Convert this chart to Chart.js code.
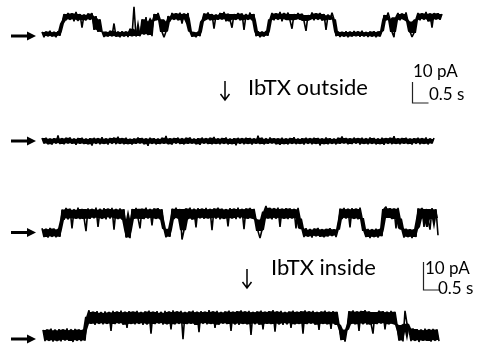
<!DOCTYPE html>
<html lang="en">
<head>
<meta charset="UTF-8">
<title>IbTX single-channel traces</title>
<script src="https://cdn.jsdelivr.net/npm/chart.js"></script>
<style>
  body { margin: 0; background: #fff; }
  #stage { position: relative; width: 480px; height: 345px; overflow: hidden;
           font-family: Lato, "Open Sans", sans-serif; color: #000; }
  .box { position: absolute; }
  .lbl { position: absolute; white-space: nowrap; line-height: 1; }
  #marks { position: absolute; left: 0; top: 0; }
</style>
</head>
<body>
<div id="stage">
  <div class="box" style="left:0;top:0"><canvas id="t1" width="480" height="50"></canvas></div>
  <div class="box" style="left:0;top:115px"><canvas id="t2" width="480" height="50"></canvas></div>
  <div class="box" style="left:0;top:195px"><canvas id="t3" width="480" height="50"></canvas></div>
  <div class="box" style="left:0;top:295px"><canvas id="t4" width="480" height="50"></canvas></div>
  <div class="box" style="left:400px;top:70px"><canvas id="sb1" width="40" height="40"></canvas></div>
  <div class="box" style="left:410px;top:255px"><canvas id="sb2" width="40" height="40"></canvas></div>

  <!-- application arrows -->
  <svg id="marks" width="480" height="345">
    <g stroke="#000" stroke-width="1.5" fill="none">
      <path d="M225 81 V100 M220.5 94 L225 100 L229.5 94"/>
      <path d="M247 269 V288 M242.5 282 L247 288 L251.5 282"/>
    </g>
  </svg>

  <div class="lbl" style="left:248px;top:76px;font-size:22px">IbTX outside</div>
  <div class="lbl" style="left:413px;top:62px;font-size:17px">10 pA</div>
  <div class="lbl" style="left:429px;top:85px;font-size:17px">0.5 s</div>

  <div class="lbl" style="left:271px;top:256px;font-size:22px">IbTX inside</div>
  <div class="lbl" style="left:425px;top:259px;font-size:17px">10 pA</div>
  <div class="lbl" style="left:438px;top:279px;font-size:17px">0.5 s</div>
</div>

<script>
// sample interval of the traces (s)
const DT = 0.0625;

// current (pA) relative to the closed level, control patch
const control1 = [
  1, -1.5, 1.2, -1, 1.5, -1.2, 0.8, -1.5, 1.3, -0.8,
  5, 9.5, 6.5, 10, 7, 9.8, 6, 10.5, 6.8, 9.5,
  3, 9, 6.5, 9.8, 7, 10, 2, 8.5, 1, 7,
  1.2, -1.4, 0.9, -1.2, 1.5, -1, 5, -1.3, 1, -1.5,
  1.3, -0.9, 1.1, -1.4, 2.5, -1, 13, -1.2, 1.4, -1,
  7, 0, 8, -0.5, 6, -1,
  9.5, 6.5, 10, 7,
  1, -1.5, 1.2,
  8.5, 6, 10, 7, 9.8, 6.5, 10.2, 5, 9.5, 7, 10,
  1.2, -1.3, 0.8, -1.5, 1.1, -1,
  6, 9.8, 7, 10.3, 6.5, 9.5, 2.5, 9, 6.8, 10,
  7, 10.5, 6, 9.7, 6.8, 3, 9.5, 7.2, 10, 6.5,
  9.8, 2, 9, 7, 10.2, 6.5, 9.5,
  -1, 1.3, -1.5, 1, -1.2, 1.4, -0.8,
  7, 10, 6.5, 9.8, 7.2, 10.5, 6, 9.6, 7, 10.2,
  6.5, 2.5, 9.5, 7, 10, 6.8, 9.7, 6.2, 1.5, 9,
  7, 10.3, 6.5, 9.8, 7.1, 10, 6.4, 9.5, 2, 8.8,
  6.8, 10.1, 7,
  -1, 1.2, -1.4, 0.9, -1.1, 1.3, -1.5, 1, -1.2, 1.4,
  -0.9, 1.1, -1.3, 1.5, -1, 0.8, -1.4, 1.2, -1.1, 1.3,
  -1.5, 1, -1.2, 1.4,
  9, 6.5, 10.2, 7,
  1, -1.5,
  8, 10, 6.5, 9.5, 7, 10.3, 6,
  1.2, -1.4, 0.5,
  7, 10, 6.5, 9.8, 7.2, 10.5, 6, 9.6, 3, 10, 7, 9.9, 6.8, 9.5
];

// after IbTX outside
const outside1 = [
  1.4, -1.2, 1.6, -1.5, 1.1, -1.7, 1.3, -1.0, 2.6, -1.4,
  1.2, -1.6, 1.5, -1.1, 1.7, -1.3, 0.9, -1.8, 1.4, -1.2,
  1.6, -1.4, 1.0, -1.5, 1.3, -2.2, 1.5, -1.1, 1.2, -1.6,
  1.8, -1.3, 1.1, -1.7, 1.4, -1.0, 1.6, -1.5, 2.0, -1.2,
  1.3, -1.6, 1.5, -1.4, 0.9, -1.7, 1.2, -1.3, 1.7, -1.1,
  1.4, -1.5, 1.1, -2.3, 1.6, -1.2, 1.3, -1.6, 1.0, -1.4,
  1.5, -1.2, 2.4, -1.5, 1.2, -1.7, 1.4, -1.0, 1.6, -1.4,
  1.1, -1.6, 1.5, -1.3, 1.7, -1.2, 1.0, -1.5, 1.3, -1.8,
  1.6, -1.1, 1.2, -1.4, 1.5, -1.6, 1.9, -1.3, 1.1, -1.5,
  1.4, -1.2, 1.7, -1.6, 1.0, -1.4, 1.3, -2.0, 1.5, -1.1,
  1.2, -1.5, 1.6, -1.3, 1.4, -1.7, 1.1, -1.2, 2.5, -1.4,
  1.5, -1.6, 1.0, -1.3, 1.7, -1.1, 1.3, -1.5, 1.2, -1.8,
  1.6, -1.4, 1.1, -1.6, 1.4, -1.2, 1.8, -1.5, 1.0, -1.3,
  1.3, -1.7, 1.5, -1.1, 1.2, -1.6, 1.6, -1.3, 1.4, -2.1,
  1.1, -1.4, 1.7, -1.5, 1.3, -1.2, 1.0, -1.6, 1.5, -1.3,
  2.2, -1.1, 1.4, -1.6, 1.2, -1.4, 1.6, -1.0, 1.3, -1.7,
  1.5, -1.3, 1.1, -1.5, 1.7, -1.2, 1.4, -1.6, 1.0, -1.4,
  1.6, -1.8, 1.3, -1.1, 1.5, -1.5, 2.3, -1.3, 1.2, -1.6,
  1.4, -1.2, 1.6, -1.4, 1.1, -1.7, 1.3, -1.0, 1.5, -1.5,
  1.2, -1.3, 1.7, -1.6, 1.0, -1.2, 1.4
];

// second patch, control
const control2 = [
  1.5, -1.6, 1.2, -1.8, 1.6, -1.3, 1.4, -1.7, 1.1, -1.5,
  8.2, 4.5, 8.8, 5.2, 8.5, 1.5, 8.0, 5.0, 8.9, 4.8,
  8.4, 5.3, 0.5, 8.6, 4.9, 8.3, 5.4, 8.9, 2.0, 8.1,
  5.1, 8.7, 4.7, 8.4, 5.5, 8.8, 1.0, 8.2, 5.0, 8.6,
  4.6, 8.3,
  -1.8, 1.0, -2.0,
  8.4, 4.9, 8.8, 5.2, 1.5, 8.5, 4.8, 8.9, 5.3, 8.2,
  2.5, 8.6, 5.0, 8.7, 4.7, 8.3,
  1.3, -1.7, 1.0, -1.5,
  8.5, 4.8, 8.9, 5.2, 8.4,
  -2.5, 0.8,
  8.6, 5.0, 8.9, 4.6, 8.2, 1.8, 8.7, 5.3, 8.4, 4.9,
  8.8, 5.1, 8.3, 0.8, 8.6, 5.4, 8.9, 4.7, 8.5, 5.0,
  8.2, 2.2, 8.7, 5.2, 8.4, 4.8, 8.9, 5.5, 8.3, 1.2,
  8.6, 4.9, 8.8, 5.1, 8.4, 4.6,
  0.5, -2.0, 1.0,
  7.5, 9.5, 5.0, 8.8, 4.7, 8.5, 5.3, 8.9, 2.0, 8.4,
  5.0, 8.7, 4.8, 8.6, 5.2, 8.3, 1.5, 8.8, 5.0,
  1.2, -1.6, 1.5, -1.3, 1.0, -1.8, 1.4, -1.2, 1.6, -1.5,
  1.1, -1.7, 1.3, -1.4, 1.5, -1.1, 1.2, -1.6, 1.0,
  8.5, 4.8, 8.8, 5.3, 8.3, 1.8, 8.7, 5.0, 8.4, 4.7, 8.9, 5.2,
  0.5, -1.6, 1.3, -2.0, 1.0, -1.5, 1.4, -1.8, 1.2, -1.3,
  8.4, 9.2, 5.2, 8.7, 4.8, 8.5, 1.5, 8.8, 5.0,
  1.0, -1.8, 1.4, -1.5, 1.2, -2.0, 1.1, -1.6,
  8.6, 5.0, 8.8, 2.0, 8.4, 4.8, 1.0, 8.7, 5.2, 8.3,
  -1.0
];

// after IbTX inside
const inside2 = [
  1.8, -2.2, 2.0, -1.9, 2.3, -2.4, 1.6, -2.0, 2.1, -2.3,
  1.9, -1.7, 2.4, -2.1, 1.7, -2.5, 2.2, -1.8, 2.0, -2.2,
  1.8, -2.0,
  6.5, 8.8, 4.0, 8.2, 3.6, 8.5, 4.2, 7.9, 3.8, 8.4,
  4.1, 8.0, 1.5, 8.6, 3.9, 8.2, 4.3, 8.7, 3.7, 8.1,
  2.5, 8.5, 4.0, 8.3, 3.8, 8.6, 4.2, 8.0, 3.6, 8.4,
  4.1, 8.7, 0.5, 8.2, 3.9, 8.5, 4.3, 7.9, 3.7, 8.6,
  4.0, 8.2, 2.0, 8.8, 3.8, 8.3, 4.2, 8.6, -1.5, 8.0,
  3.9, 8.4, 4.1, 8.7, 3.6, 8.1, 1.0, 8.5, 4.3, 8.2,
  3.8, 8.9, 4.0, 8.3, 2.5, 8.6, 3.7, 8.0, 4.2, 8.4,
  3.9, 8.7, 1.5, 8.2, 4.1, 8.5, 3.6, 8.8, 4.0, 8.3,
  3.8, 8.6, 0.0, 8.1, 4.2, 8.4, 3.7, 8.7, 2.0, 8.2,
  4.0, 8.5, 3.9, 8.9, 1.2, 8.3, 4.1, 8.6, 3.6, 8.0,
  4.3, 8.4, 2.5, 8.7, 3.8, 8.2, 4.0, 8.5, 0.5, 8.8,
  3.9, 8.3, 4.2, 8.6, 3.7, 8.1, 1.8, 8.4, 4.0, 8.7,
  3.8, 8.2, 2.2, 8.5, 4.1, 8.3, 3.6,
  -1.8, 1.5, -2.4, 2.0,
  8.5, 4.0, 8.8, 3.8, 8.3, 1.5, 8.6, 4.2, 8.9, 3.7,
  8.4, 4.1, 0.5, 8.2, 3.9, 8.7, 4.3, 8.5, 2.0, 8.1,
  3.8, 8.6, 4.0, 8.3, 3.6,
  -2.0, 1.2, -2.3,
  8.6, 4.0,
  1.8, -2.2, 2.4, -1.9, 2.1, -2.5, 1.7, -2.0, 2.3, -2.1,
  1.9, -2.4, 2.2, -1.8, 2.0, -2.2
];

// scale bar: 10 pA vertical, 0.5 s horizontal
const barT = [0, 0, 0.5];
const barI = [10, 0, 0];

const PX_PER_S = 32;

Chart.defaults.animation = false;
Chart.defaults.font.family = 'Lato, sans-serif';

// left arrow pointing at the closed level
const closedArrow = {
  id: 'closedArrow',
  afterDraw(chart, args, opts) {
    const c = chart.ctx;
    const y = chart.scales.y.getPixelForValue(0) + opts.dy;
    c.save();
    c.strokeStyle = '#000';
    c.fillStyle = '#000';
    c.lineWidth = 3;
    c.beginPath();
    c.moveTo(11, y);
    c.lineTo(29, y);
    c.stroke();
    c.beginPath();
    c.moveTo(27, y - 4.5);
    c.lineTo(36, y);
    c.lineTo(27, y + 4.5);
    c.closePath();
    c.fill();
    c.restore();
  }
};

// 2nd highest / 2nd lowest of the 5 samples around i: the dense core of
// the noise band, leaving single brief flickers to the trace line itself
function rank(values, i, top) {
  const win = values.slice(Math.max(0, i - 2), i + 3).sort((a, b) => a - b);
  return top ? win[win.length - 2] : win[1];
}

function traceChart(id, values, zeroY, pxPerPA, startX, arrowDy) {
  const cv = document.getElementById(id);
  const h = cv.height, w = cv.width;
  const pts = values.map((v, i) => ({ x: i * DT, y: v }));
  const coreHi = values.map((v, i) => ({ x: i * DT, y: rank(values, i, true) }));
  const coreLo = values.map((v, i) => ({ x: i * DT, y: rank(values, i, false) }));
  const clear = 'rgba(0,0,0,0)';
  return new Chart(cv, {
    type: 'line',
    data: {
      datasets: [
        { data: coreHi, borderColor: clear, pointRadius: 0, fill: false },
        { data: coreLo, borderColor: clear, pointRadius: 0, fill: '-1', backgroundColor: '#000' },
        {
          data: pts,
          borderColor: '#000',
          borderWidth: 1.6,
          borderJoinStyle: 'bevel',
          pointRadius: 0,
          tension: 0,
          fill: false
        }
      ]
    },
    options: {
      responsive: false,
      devicePixelRatio: 1,
      layout: { padding: 0 },
      clip: false,
      scales: {
        x: { type: 'linear', display: false, min: -startX / PX_PER_S, max: (w - startX) / PX_PER_S },
        y: { type: 'linear', display: false, min: -(h - zeroY) / pxPerPA, max: zeroY / pxPerPA }
      },
      plugins: {
        legend: { display: false },
        tooltip: { enabled: false },
        closedArrow: { dy: arrowDy }
      }
    },
    plugins: [closedArrow]
  });
}

function scaleBar(id, ox, oy, pxPerPA) {
  const cv = document.getElementById(id);
  const h = cv.height, w = cv.width;
  return new Chart(cv, {
    type: 'line',
    data: {
      datasets: [{
        data: barT.map((t, i) => ({ x: t, y: barI[i] })),
        borderColor: '#222',
        borderWidth: 1.2,
        pointRadius: 0,
        tension: 0
      }]
    },
    options: {
      responsive: false,
      devicePixelRatio: 1,
      layout: { padding: 0 },
      clip: false,
      scales: {
        x: { type: 'linear', display: false, min: -ox / PX_PER_S, max: (w - ox) / PX_PER_S },
        y: { type: 'linear', display: false, min: -(h - oy) / pxPerPA, max: oy / pxPerPA }
      },
      plugins: { legend: { display: false }, tooltip: { enabled: false } }
    }
  });
}

// canvas-local pixel of the closed level, px per pA, trace start x
traceChart('t1', control1, 34, 2.1, 42, 2);
traceChart('t2', outside1, 26, 2.1, 42, 0);
traceChart('t3', control2, 37.5, 2.8, 42, 0);
traceChart('t4', inside2, 40, 2.8, 43, 4);

scaleBar('sb1', 12.5, 33, 2.1);
scaleBar('sb2', 13.5, 35, 2.8);
</script>
</body>
</html>
